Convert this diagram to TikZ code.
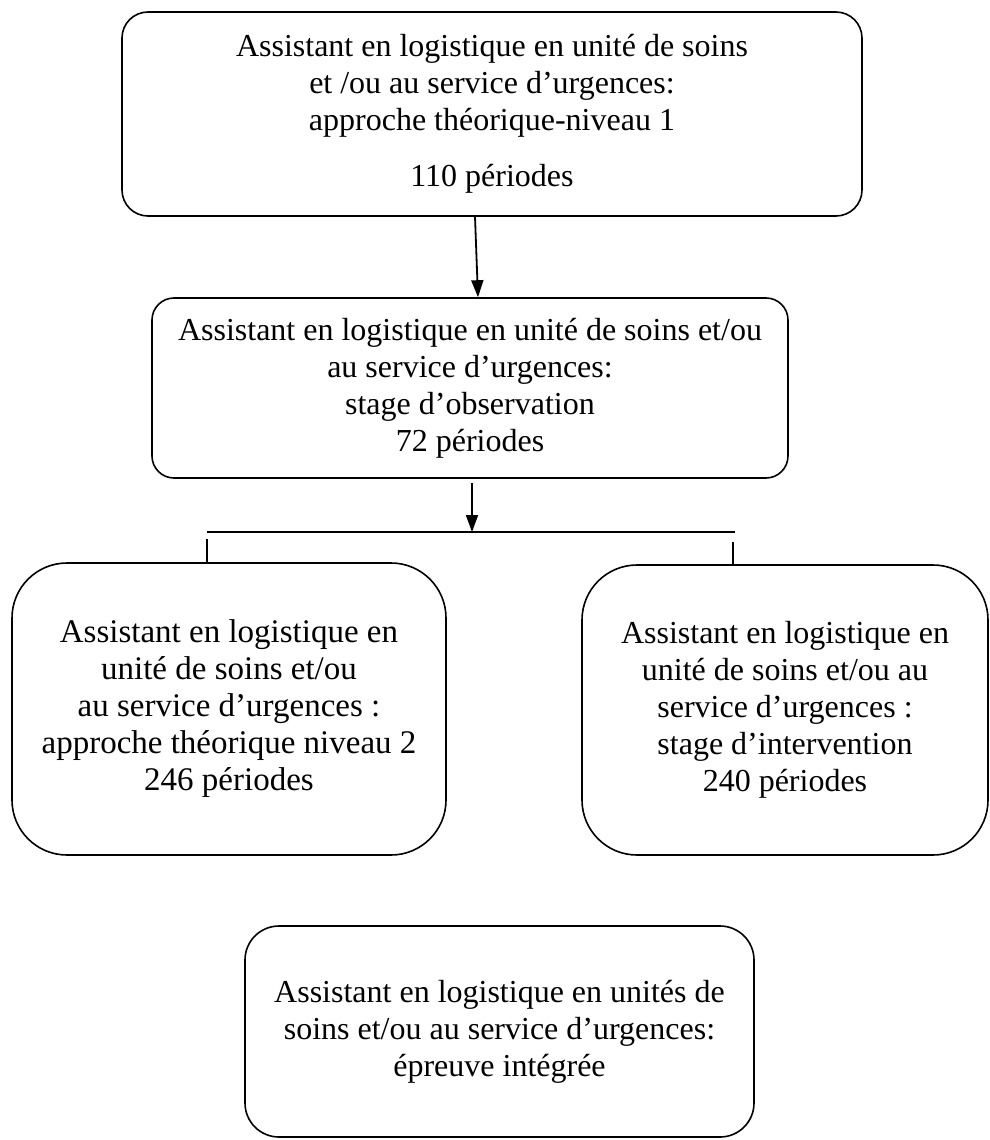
\documentclass[tikz,border=0pt]{standalone}
\usepackage{fontspec}
\setmainfont{Liberation Serif}
\usetikzlibrary{arrows.meta}
\begin{document}
\begin{tikzpicture}[x=1pt,y=-1pt,
  box/.style={draw, line width=1.6pt, align=center, inner sep=0pt,
    font=\fontsize{32}{37}\selectfont},
  arr/.style={line width=1.8pt, -{Triangle[length=17pt,width=12pt]}},
  bar/.style={line width=2.6pt},
  tick/.style={line width=1.4pt}
]
\useasboundingbox (0,0) rectangle (990,1140);

\node[box, rounded corners=26pt, minimum width=740pt, minimum height=204pt] (b1) at (492,114)
  {Assistant en logistique en unité de soins\\ et /ou au service d’urgences:\\ approche théorique-niveau 1\\[19pt] 110 périodes};

\node[box, rounded corners=22pt, minimum width=636pt, minimum height=180pt] (b2) at (470,388)
  {Assistant en logistique en unité de soins et/ou\\ au service d’urgences:\\ stage d’observation\\ 72 périodes};

\node[box, rounded corners=55pt, minimum width=434pt, minimum height=292pt,
  font=\fontsize{33}{37}\selectfont] (b3) at (229,709)
  {Assistant en logistique en\\ unité de soins et/ou\\ au service d’urgences :\\ approche théorique niveau 2\\ 246 périodes};

\node[box, rounded corners=55pt, minimum width=406pt, minimum height=290pt] (b4) at (785,710)
  {Assistant en logistique en\\ unité de soins et/ou au\\ service d’urgences :\\ stage d’intervention\\ 240 périodes};

\node[box, rounded corners=34pt, minimum width=509pt, minimum height=211pt] (b5) at (499.5,1031.5)
  {Assistant en logistique en unités de\\ soins et/ou au service d’urgences:\\ épreuve intégrée};

\coordinate (a1s) at (475,0);
\coordinate (a1e) at (478,0);
\coordinate (a2x) at (472,0);
\coordinate (hl) at (207,532);
\coordinate (hr) at (735,532);
\coordinate (tl) at (207,539);
\coordinate (tr) at (733,542);
\coordinate (a2s) at (472,483);

\draw[arr] (b1.south -| a1s) -- (b2.north -| a1e);
\draw[arr] (a2s) -- (a2x |- hl);
\draw[bar] (hl) -- (hr);
\draw[tick] (tl) -- (tl |- b3.north);
\draw[tick] (tr) -- (tr |- b4.north);
\end{tikzpicture}
\end{document}
